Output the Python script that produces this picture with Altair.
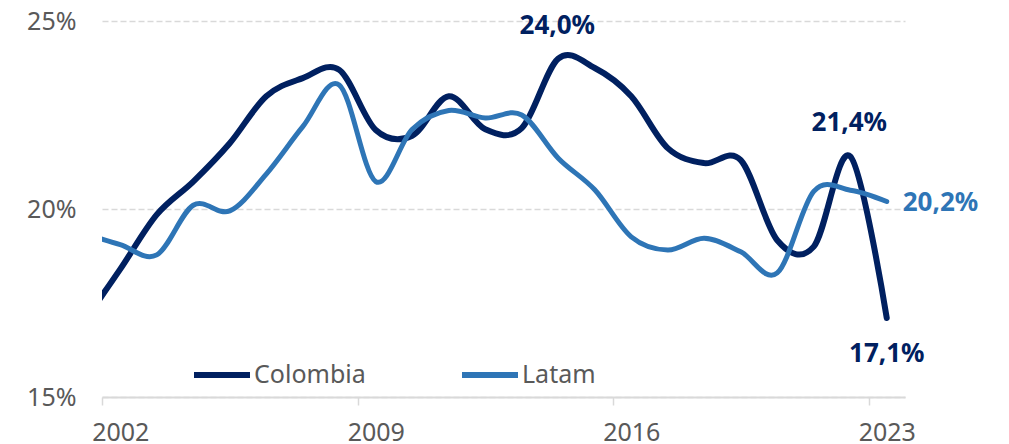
import altair as alt
import pandas as pd

# Annual data (2001 only lies outside the visible axis range and is clipped)
years = list(range(2001, 2024))
colombia = [17.0, 18.4, 19.85, 20.73, 21.75, 23.0, 23.48, 23.7, 22.1, 21.95, 23.0,
            22.12, 22.15, 24.0, 23.75, 23.0, 21.62, 21.22, 21.3, 19.17, 19.0, 21.4, 17.1]
latam = [19.35, 19.05, 18.78, 20.1, 19.95, 20.93, 22.19, 23.3, 20.73, 22.12, 22.62,
         22.42, 22.5, 21.35, 20.51, 19.26, 18.91, 19.22, 18.86, 18.3, 20.47, 20.5, 20.2]
series_names = ["Colombia", "Latam"]
series_colors = ["#002060", "#2E75B6"]
x_tick_labels = [2002, 2009, 2016, 2023]
y_ticks = [15, 20, 25]

FONT = "Noto Sans"
GREY = "#595959"

df = pd.DataFrame({
    "year": years * 2,
    "value": colombia + latam,
    "series": ["Colombia"] * len(years) + ["Latam"] * len(years),
})


def fmt(v):
    return f"{v:.1f}%".replace(".", ",")


i2014 = years.index(2014)
i2022 = years.index(2022)
i2023 = years.index(2023)
lab_top = pd.DataFrame({"year": [years[i2014], years[i2022]],
                        "value": [colombia[i2014], colombia[i2022]],
                        "label": [fmt(colombia[i2014]), fmt(colombia[i2022])]})
lab_bottom = pd.DataFrame({"year": [years[i2023]], "value": [colombia[i2023]],
                           "label": [fmt(colombia[i2023])]})
lab_latam = pd.DataFrame({"year": [years[i2023]], "value": [latam[i2023]],
                          "label": [fmt(latam[i2023])]})

xscale = alt.Scale(domain=[2001.5, 2023.5], nice=False, zero=False)
yscale = alt.Scale(domain=[15, 25], nice=False, zero=False)

x_enc = alt.X("year:Q", scale=xscale, title=None,
              axis=alt.Axis(values=[v - 0.5 for v in x_tick_labels],
                            labelExpr="toString(datum.value + 0.5)",
                            labelOffset=18.25, labelFlush=False,
                            labelFont=FONT, labelFontSize=25, labelColor=GREY,
                            labelPadding=15, tickSize=8, tickColor="#D9D9D9",
                            tickWidth=1.5, domainColor="#D9D9D9", domainWidth=2,
                            grid=False))
y_enc = alt.Y("value:Q", scale=yscale, title=None,
              axis=alt.Axis(values=y_ticks, labelExpr="datum.value + '%'",
                            labelFont=FONT, labelFontSize=25, labelColor=GREY,
                            labelPadding=26, ticks=False, tickSize=0, domain=False,
                            grid=True, gridColor="#D9D9D9", gridDash=[6, 3],
                            gridWidth=1.5))

color_enc = alt.Color("series:N",
                      scale=alt.Scale(domain=series_names, range=series_colors),
                      legend=alt.Legend(orient="none", legendX=89, legendY=323,
                                        direction="horizontal", title=None,
                                        symbolType="stroke", symbolSize=3136,
                                        symbolStrokeWidth=6, labelFont=FONT,
                                        labelFontSize=25, labelColor=GREY,
                                        labelOffset=1, columnPadding=84))

base = alt.Chart(df)
line_col = base.transform_filter(alt.datum.series == "Colombia").mark_line(
    interpolate="cardinal", strokeWidth=6, strokeCap="round", clip=True
).encode(x=x_enc, y=y_enc, color=color_enc)
line_lat = base.transform_filter(alt.datum.series == "Latam").mark_line(
    interpolate="cardinal", strokeWidth=5, strokeCap="round", clip=True
).encode(x=x_enc, y=y_enc, color=color_enc)

t_top = alt.Chart(lab_top).mark_text(
    font=FONT, fontSize=26, fontWeight="bold", color="#002060",
    align="center", baseline="middle", dx=-1, dy=-33
).encode(x="year:Q", y="value:Q", text="label:N")
t_bot = alt.Chart(lab_bottom).mark_text(
    font=FONT, fontSize=26, fontWeight="bold", color="#002060",
    align="center", baseline="middle", dx=0, dy=36
).encode(x="year:Q", y="value:Q", text="label:N")
t_lat = alt.Chart(lab_latam).mark_text(
    font=FONT, fontSize=26, fontWeight="bold", color="#2E75B6",
    align="left", baseline="middle", dx=16, dy=2
).encode(x="year:Q", y="value:Q", text="label:N")

chart = alt.layer(line_col, line_lat, t_top, t_bot, t_lat).properties(
    width=803, height=376, autosize="none",
    padding={"left": 94, "top": 13, "right": 90, "bottom": 47},
    background="white",
).configure_view(strokeWidth=0)

chart.save("out.html", embed_options={"renderer": "svg", "actions": False})
